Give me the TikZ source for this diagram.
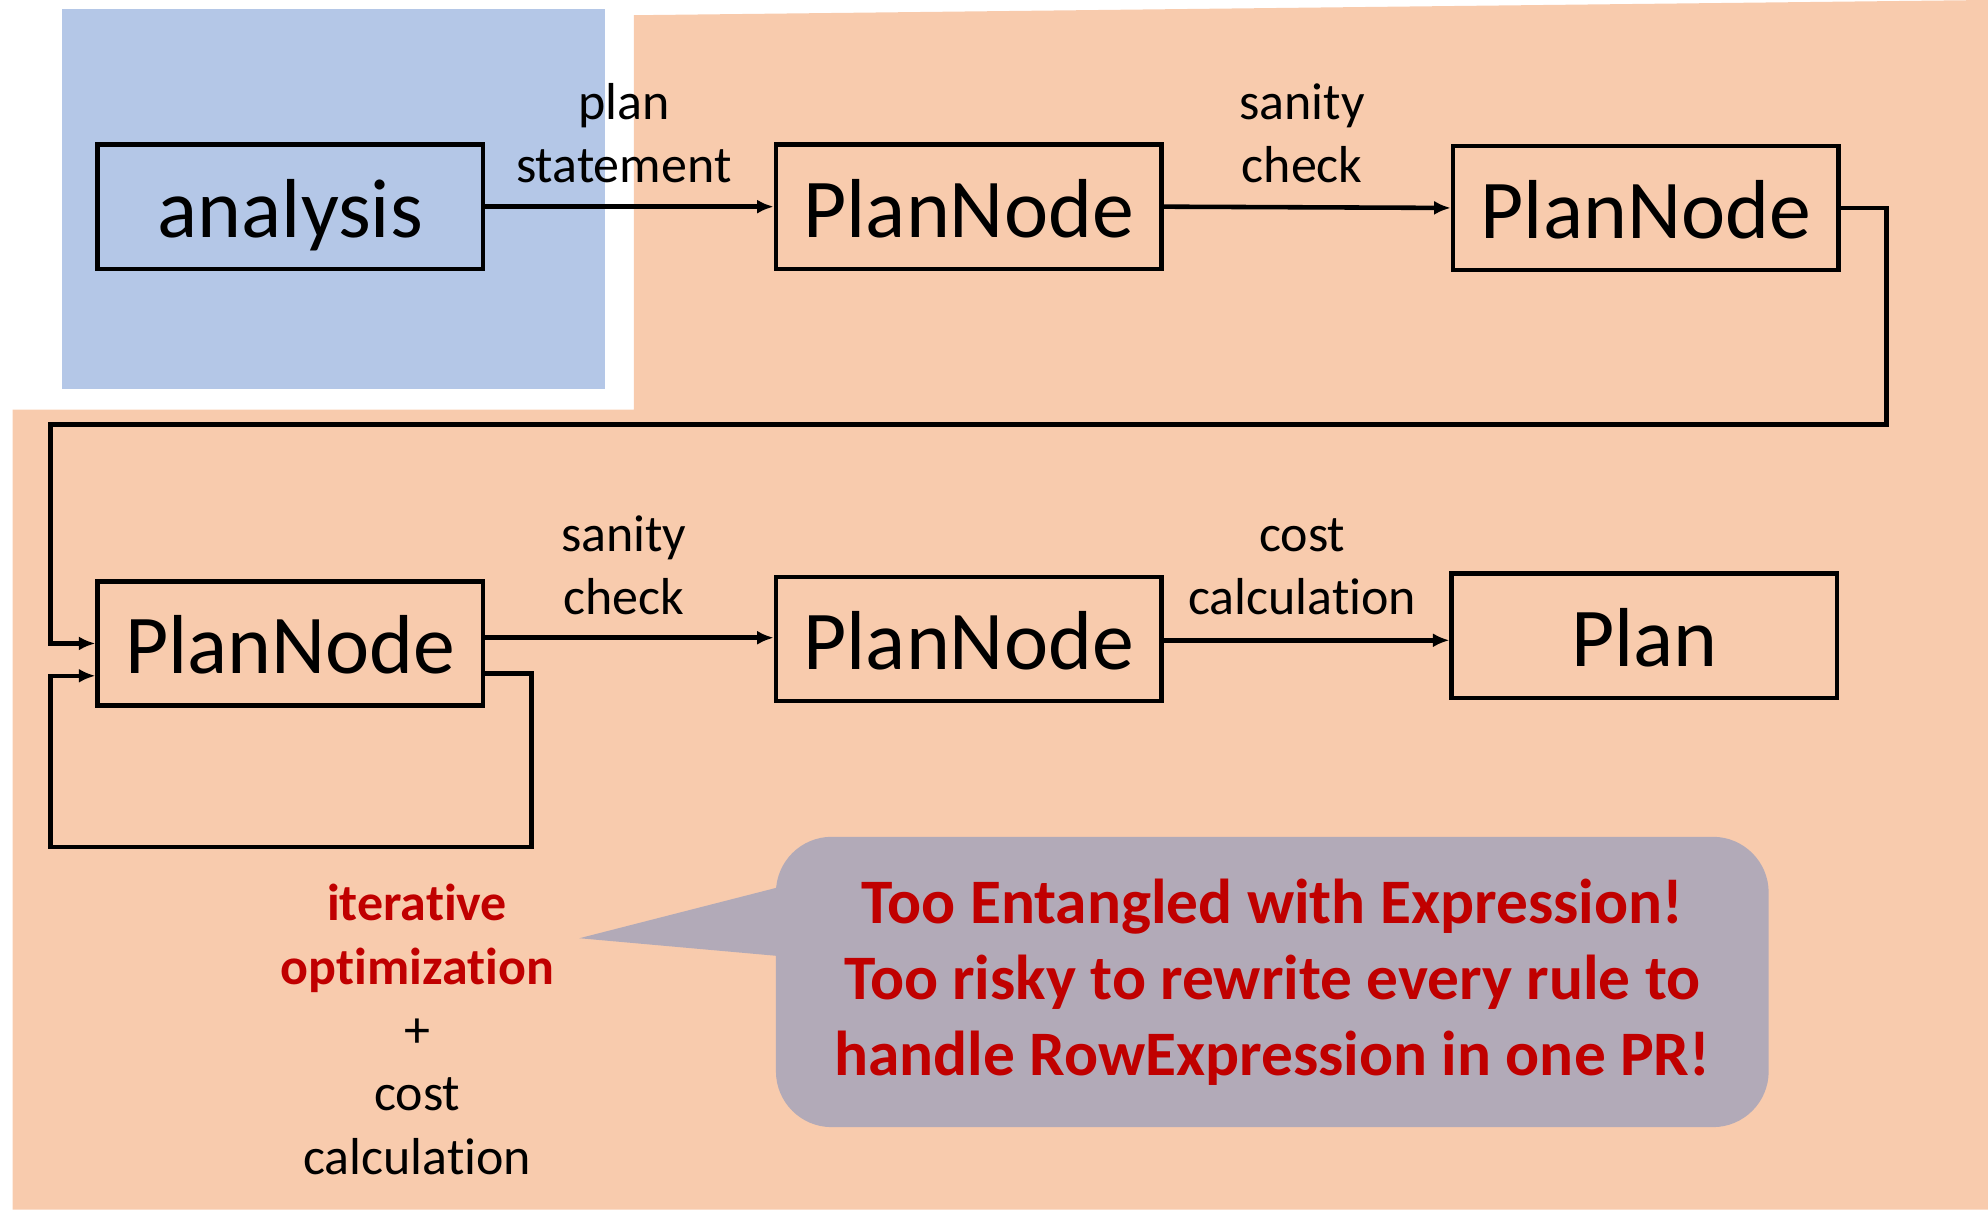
\documentclass[tikz,border=0pt]{standalone}
\usepackage{fontspec}
\setmainfont[Ligatures=NoCommon]{Carlito}
\usetikzlibrary{arrows.meta}
\definecolor{peach}{HTML}{F8CBAD}
\definecolor{lblue}{HTML}{B4C7E7}
\definecolor{callgray}{HTML}{B2AAB8}
\definecolor{darkred}{HTML}{C00000}
\tikzset{
  boxnode/.style={draw=black, line width=1.8pt, minimum width=152pt, minimum height=49pt, inner sep=0pt, text height=28pt, text depth=4pt, font=\fontsize{33}{36}\selectfont},
  lbl/.style={align=center, inner sep=0pt, font=\fontsize{20.5}{25}\selectfont},
  arr/.style={line width=1.8pt, -{Latex[length=6.5pt,width=5.5pt]}},
  callout/.style={fill=callgray, rounded corners=22pt, minimum width=391.5pt, minimum height=114.5pt, align=center, text=darkred, font=\bfseries\fontsize{25}{30}\selectfont}
}
\begin{document}
\begin{tikzpicture}[x=0.5pt,y=-0.5pt]
\useasboundingbox (0,0) rectangle (1568,954);
% backgrounds
\fill[lblue] (49,7) rectangle (477,307);
\fill[peach] (500,12) -- (1568,0) -- (1568,954) -- (10,954) -- (10,323) -- (500,323) -- cycle;
% boxes
\node[boxnode] (ana) at (229,163) {analysis};
\node[boxnode] (pn1) at (764,163) {PlanNode};
\node[boxnode] (pn2) at (1298,164) {PlanNode};
\node[boxnode] (pn3) at (229,507.5) {PlanNode};
\node[boxnode] (pn4) at (764,504) {PlanNode};
\node[boxnode] (plan) at (1297,501.5) {Plan};
% labels
\node[lbl] (l1) at (492,105) {plan\\statement};
\node[lbl] (l2) at (1027,105) {sanity\\check};
\node[lbl] (l3) at (492,446) {sanity\\check};
\node[lbl] (l4) at (1027,447) {cost\\calculation};
\node[lbl] (l5) at (329,812) {\textcolor{darkred}{\bfseries iterative}\\\textcolor{darkred}{\bfseries optimization}\\+\\cost\\calculation};
% connectors
\draw[arr] (ana.east) -- (pn1.west);
\draw[arr] (pn1.east) -- (pn2.west);
\draw[arr] (pn2.east) -- (1488,164) -- (1488,335) -- (40,335) -- (40,507.5) -- (pn3.west);
\draw[arr] (pn3.east |- 0,503) -- (pn4.west |- 0,503);
\draw[arr] (pn4.east |- 0,505) -- (plan.west |- 0,505);
\draw[arr] ([yshift=-11.75pt]pn3.east) -- (419,531) -- (419,668) -- (40,668) -- (40,533) -- ([yshift=-12.75pt]pn3.west);
% callout
\fill[callgray] (457,740) -- (625,697) -- (625,755) -- cycle;
\node[callout] (note) at (1003.5,774.5) {Too Entangled with Expression!\\Too risky to rewrite every rule to\\handle RowExpression in one PR!};
\end{tikzpicture}
\end{document}
